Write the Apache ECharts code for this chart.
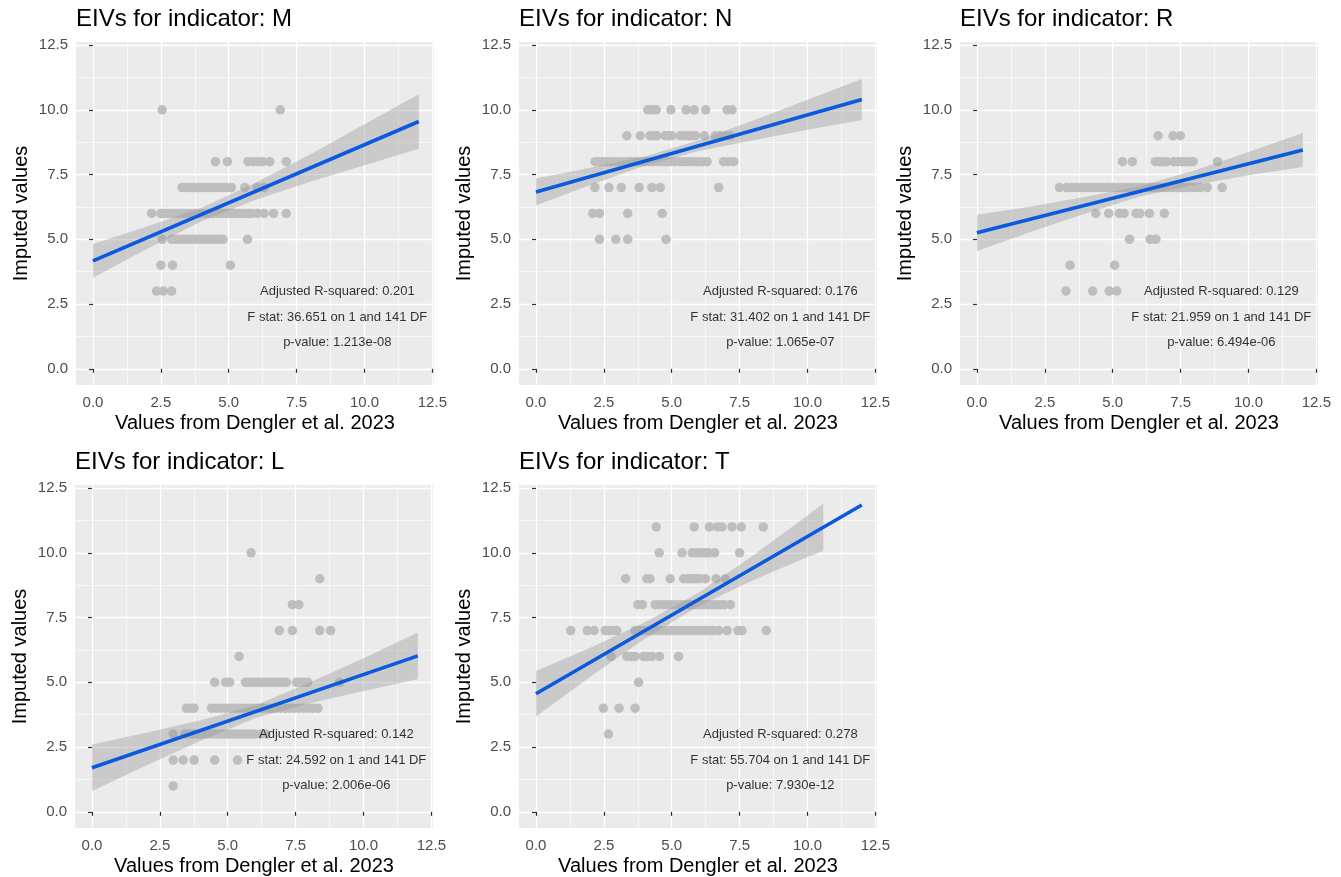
<!DOCTYPE html>
<html>
<head>
<meta charset="utf-8">
<script src="https://cdn.jsdelivr.net/npm/echarts@6/dist/echarts.min.js"></script>
<style>
  html, body { margin: 0; padding: 0; background: #fff; }
  #main { width: 1341px; height: 877px; }
</style>
</head>
<body>
<div id="main"></div>
<script>
// tick labels shared by every panel
const tickVals = [0, 2.5, 5, 7.5, 10, 12.5];
const minorVals = [1.25, 3.75, 6.25, 8.75, 11.25];

// points, grouped as [imputed value, [Dengler values...]]
const ptsM = [
  [10, [2.55, 6.9]],
  [8, [4.51, 4.95, 5.71, 5.89, 6.08, 6.26, 6.51, 7.12]],
  [7, [3.28, 3.43, 3.58, 3.73, 3.88, 4.03, 4.18, 4.33, 4.48, 4.63, 4.78, 4.93, 5.1, 5.59, 6.05, 6.3]],
  [6, [2.16, 2.5, 2.66, 2.82, 2.98, 3.14, 3.3, 3.46, 3.62, 3.78, 3.94, 4.1, 4.26, 4.42, 4.58, 4.74, 4.9, 5.06, 5.22, 5.38, 5.54, 5.7, 5.83, 6.05, 6.3, 6.65, 7.12]],
  [5, [2.55, 2.9, 3.06, 3.22, 3.38, 3.54, 3.7, 3.86, 4.02, 4.18, 4.34, 4.5, 4.66, 4.79, 5.69]],
  [4, [2.5, 2.93, 5.06]],
  [3, [2.34, 2.6, 2.9]]
];
const ptsN = [
  [10, [4.12, 4.27, 4.43, 4.97, 5.53, 5.83, 6.25, 7.04, 7.22]],
  [9, [3.35, 3.84, 4.2, 4.33, 4.45, 4.76, 4.88, 5.0, 5.31, 5.45, 5.6, 5.73, 5.87, 6.2, 6.6, 6.78, 6.97, 7.15]],
  [8, [2.18, 2.32, 2.46, 2.6, 2.74, 2.85, 3.04, 3.2, 3.36, 3.52, 3.68, 3.84, 4.0, 4.16, 4.32, 4.48, 4.64, 4.8, 4.96, 5.13, 5.29, 5.45, 5.61, 5.77, 5.93, 6.11, 6.3, 6.91, 7.1, 7.28]],
  [7, [2.17, 2.69, 3.14, 3.8, 4.27, 4.58, 6.73]],
  [6, [2.09, 2.34, 3.38, 4.65]],
  [5, [2.34, 2.94, 3.38, 4.79]]
];
const ptsR = [
  [9, [6.67, 7.22, 7.49]],
  [8, [5.36, 5.72, 6.57, 6.72, 6.87, 7.0, 7.25, 7.4, 7.55, 7.7, 7.85, 7.96, 8.86]],
  [7, [3.04, 3.31, 3.48, 3.65, 3.82, 3.99, 4.16, 4.33, 4.5, 4.67, 4.84, 5.01, 5.18, 5.35, 5.52, 5.69, 5.86, 6.03, 6.2, 6.37, 6.54, 6.71, 6.88, 7.05, 7.22, 7.39, 7.56, 7.73, 7.9, 8.07, 8.24, 8.48, 9.03]],
  [6, [4.38, 4.85, 5.24, 5.42, 5.86, 6.0, 6.35, 6.9]],
  [5, [5.62, 6.38, 6.59]],
  [4, [3.43, 5.07]],
  [3, [3.28, 4.26, 4.87, 5.15]]
];
const ptsL = [
  [10, [5.86]],
  [9, [8.39]],
  [8, [7.38, 7.62]],
  [7, [6.9, 7.38, 8.39, 8.79]],
  [6, [5.42]],
  [5, [4.52, 4.92, 5.07, 5.65, 5.8, 5.95, 6.1, 6.25, 6.4, 6.55, 6.7, 6.85, 7.0, 7.16, 7.53, 7.68, 7.82, 7.95, 9.12]],
  [4, [3.48, 3.62, 3.76, 4.4, 4.57, 4.74, 4.91, 5.08, 5.25, 5.42, 5.59, 5.76, 5.93, 6.1, 6.27, 6.44, 6.61, 6.78, 6.95, 7.12, 7.29, 7.46, 7.63, 7.8, 7.97, 8.14, 8.32]],
  [3, [2.99, 3.42, 3.58, 3.74, 3.9, 4.06, 4.22, 4.38, 4.54, 4.7, 4.86, 5.02, 5.18, 5.34, 5.5, 5.66, 5.82, 5.99, 6.2, 6.4]],
  [2, [2.99, 3.36, 3.76, 4.52, 5.36]],
  [1, [2.99]]
];
const ptsT = [
  [11, [4.43, 5.83, 6.39, 6.69, 6.85, 7.22, 7.56, 8.37]],
  [10, [4.54, 5.38, 5.75, 5.9, 6.05, 6.2, 6.35, 6.58, 7.5]],
  [9, [3.3, 4.08, 4.2, 4.94, 5.44, 5.6, 5.75, 5.9, 6.05, 6.24, 6.63, 6.97]],
  [8, [3.75, 3.92, 4.39, 4.55, 4.71, 4.87, 5.03, 5.19, 5.35, 5.51, 5.67, 5.83, 5.99, 6.15, 6.31, 6.47, 6.63, 6.79, 6.95, 7.16]],
  [7, [1.28, 1.89, 2.14, 2.55, 2.7, 2.85, 2.98, 3.65, 3.81, 3.97, 4.13, 4.29, 4.45, 4.61, 4.77, 4.93, 5.09, 5.25, 5.41, 5.57, 5.73, 5.89, 6.05, 6.21, 6.37, 6.53, 6.73, 7.04, 7.44, 7.59, 8.48]],
  [6, [2.77, 3.35, 3.5, 3.65, 3.96, 4.1, 4.27, 4.55, 5.25]],
  [5, [3.78]],
  [4, [2.48, 3.06, 3.65]],
  [3, [2.67]]
];

// fitted line end points
const fitX = [0, 12];
const fitM = [4.17, 9.55];
const fitN = [6.83, 10.40];
const fitR = [5.25, 8.45];
const fitL = [1.70, 6.02];
const fitT = [4.56, 11.85];

// confidence band
const bandX = [0, 2, 4, 6, 8, 10, 12];
const bandXT = [0, 2, 4, 6, 8, 10, 10.58];
const loM = [3.52, 4.64, 5.70, 6.53, 7.22, 7.86, 8.50];
const hiM = [4.82, 5.50, 6.22, 7.19, 8.28, 9.44, 10.60];
const loN = [6.31, 7.10, 7.84, 8.41, 8.83, 9.23, 9.61];
const hiN = [7.35, 7.76, 8.20, 8.83, 9.59, 10.39, 11.19];
const loR = [4.55, 5.29, 6.00, 6.65, 7.10, 7.47, 7.79];
const hiR = [5.95, 6.27, 6.64, 7.05, 7.66, 8.37, 9.11];
const loL = [0.80, 1.79, 2.74, 3.61, 4.18, 4.67, 5.12];
const hiL = [2.60, 3.05, 3.54, 4.11, 4.98, 5.93, 6.92];
const loT = [3.68, 5.22, 6.67, 7.95, 8.94, 9.84, 10.07];
const hiT = [5.44, 6.34, 7.31, 8.47, 9.90, 11.44, 11.91];

// model summaries
const statsM = ['Adjusted R-squared: 0.201', 'F stat: 36.651 on 1 and 141 DF', 'p-value: 1.213e-08'];
const statsN = ['Adjusted R-squared: 0.176', 'F stat: 31.402 on 1 and 141 DF', 'p-value: 1.065e-07'];
const statsR = ['Adjusted R-squared: 0.129', 'F stat: 21.959 on 1 and 141 DF', 'p-value: 6.494e-06'];
const statsL = ['Adjusted R-squared: 0.142', 'F stat: 24.592 on 1 and 141 DF', 'p-value: 2.006e-06'];
const statsT = ['Adjusted R-squared: 0.278', 'F stat: 55.704 on 1 and 141 DF', 'p-value: 7.930e-12'];
const statX = 9;
const statY = [3, 2, 1];

const panels = [
  { title: 'EIVs for indicator: M', pts: ptsM, fit: fitM, bx: bandX, lo: loM, hi: hiM, stats: statsM },
  { title: 'EIVs for indicator: N', pts: ptsN, fit: fitN, bx: bandX, lo: loN, hi: hiN, stats: statsN },
  { title: 'EIVs for indicator: R', pts: ptsR, fit: fitR, bx: bandX, lo: loR, hi: hiR, stats: statsR },
  { title: 'EIVs for indicator: L', pts: ptsL, fit: fitL, bx: bandX, lo: loL, hi: hiL, stats: statsL },
  { title: 'EIVs for indicator: T', pts: ptsT, fit: fitT, bx: bandXT, lo: loT, hi: hiT, stats: statsT }
];

// layout of the five cells
const cells = [
  { left: 76, top: 42 },
  { left: 519, top: 42 },
  { left: 960, top: 42 },
  { left: 75, top: 485 },
  { left: 519, top: 485 }
];
const gridW = 358, gridH = 343;
const font = 'Liberation Sans, Arial, sans-serif';
const fmt = v => Number(v).toFixed(1);

const grids = [], xAxes = [], yAxes = [], series = [], titles = [];

panels.forEach((p, i) => {
  const c = cells[i];
  grids.push({ left: c.left, top: c.top, width: gridW, height: gridH, show: true,
    backgroundColor: '#EBEBEB', borderWidth: 0, containLabel: false });
  titles.push({ text: p.title, left: c.left, top: c.top - 35, padding: 0,
    textStyle: { fontFamily: font, fontSize: 24, fontWeight: 'normal', color: '#000' } });

  const major = {
    type: 'value', gridIndex: i, min: -0.625,
    axisLine: { show: false },
    axisTick: { show: true, length: 4, customValues: tickVals, lineStyle: { color: '#333', width: 1.2 } },
    axisLabel: { customValues: tickVals, formatter: fmt, color: '#4D4D4D', fontSize: 15, fontFamily: font, margin: 8 },
    splitLine: { show: true, lineStyle: { color: '#fff', width: 1.3 } },
    nameLocation: 'middle',
    nameTextStyle: { fontFamily: font, fontSize: 20, color: '#000' }
  };
  const minor = {
    type: 'value', gridIndex: i, min: -0.625,
    axisLine: { show: false },
    axisTick: { show: false, customValues: minorVals },
    axisLabel: { show: false, customValues: minorVals },
    splitLine: { show: true, lineStyle: { color: '#fff', width: 0.6 } }
  };
  xAxes.push(Object.assign({}, minor, { max: 12.56, position: 'top' }));
  xAxes.push(Object.assign({}, major, { max: 12.56, position: 'bottom',
    name: 'Values from Dengler et al. 2023', nameGap: 28,
    axisLabel: Object.assign({}, major.axisLabel, { margin: 10 }) }));
  yAxes.push(Object.assign({}, minor, { max: 12.62, position: 'right' }));
  yAxes.push(Object.assign({}, major, { max: 12.62, position: 'left',
    name: 'Imputed values', nameGap: 45 }));

  const ax = 2 * i + 1;
  const pts = [];
  p.pts.forEach(row => row[1].forEach(x => pts.push([x, row[0]])));
  series.push({
    type: 'scatter', xAxisIndex: ax, yAxisIndex: ax, data: pts,
    symbolSize: 9.5, itemStyle: { color: '#BEBEBE', opacity: 1 }, silent: true, z: 2
  });

  const bx = p.bx, lo = p.lo, hi = p.hi;
  series.push({
    type: 'custom', xAxisIndex: ax, yAxisIndex: ax, silent: true, z: 3,
    data: bx.map((x, k) => [x, lo[k], hi[k]]),
    encode: { x: 0, y: [1, 2] },
    renderItem: (params, api) => {
      if (params.dataIndex !== 0) return null;
      const poly = [];
      bx.forEach((x, k) => poly.push(api.coord([x, hi[k]])));
      for (let k = bx.length - 1; k >= 0; k--) poly.push(api.coord([bx[k], lo[k]]));
      return { type: 'polygon', shape: { points: poly }, style: { fill: 'rgba(153,153,153,0.4)' } };
    }
  });

  series.push({
    type: 'line', xAxisIndex: ax, yAxisIndex: ax, silent: true, z: 4,
    data: fitX.map((x, k) => [x, p.fit[k]]),
    showSymbol: false, lineStyle: { color: '#0A5AE0', width: 3.6 }
  });

  series.push({
    type: 'scatter', xAxisIndex: ax, yAxisIndex: ax, silent: true, z: 5,
    data: p.stats.map((s, k) => ({ value: [statX, statY[k]], name: s })),
    symbolSize: 0,
    label: { show: true, position: 'inside', formatter: d => d.name,
      color: '#000', fontSize: 13, fontFamily: font }
  });
});

const chart = echarts.init(document.getElementById('main'));
chart.setOption({
  animation: false,
  textStyle: { fontFamily: font },
  title: titles,
  grid: grids,
  xAxis: xAxes,
  yAxis: yAxes,
  series: series
});

window.onresize = function () {
  chart.resize();
};
</script>
</body>
</html>
